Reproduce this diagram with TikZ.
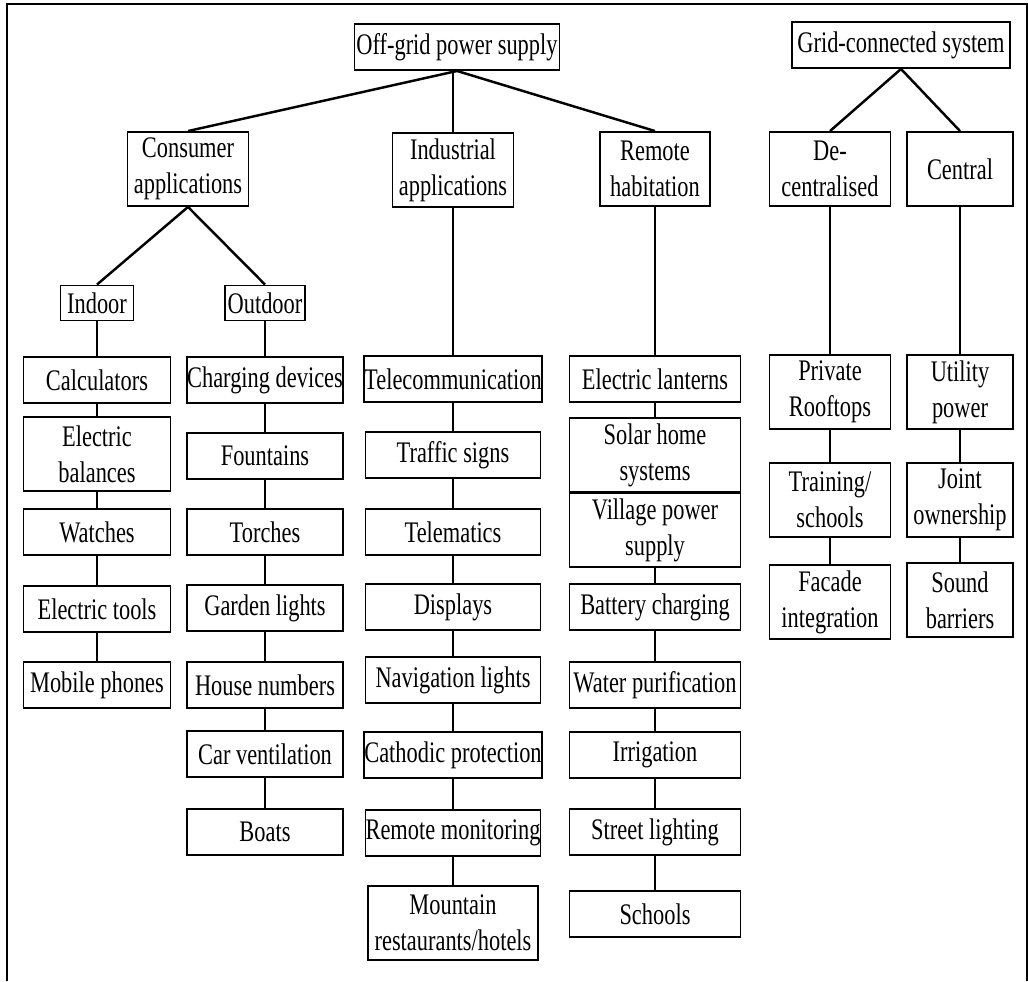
\documentclass[tikz,border=0pt]{standalone}
\usepackage{fontspec}
\setmainfont[FakeStretch=0.75]{Liberation Serif}
\usepackage{tikz}
\usetikzlibrary{positioning}

\tikzset{
    box/.style={draw, black, line width=1.1pt, fill=white, align=center, inner sep=0pt,
        font=\fontsize{17}{20.5}\selectfont},
    one/.style={box, minimum height=0.92cm},
    two/.style={box, minimum height=1.48cm},
    link/.style={black, line width=0.6pt},
    branch/.style={black, line width=1.4pt}
}

\begin{document}
\begin{tikzpicture}[x=0.02cm, y=-0.02cm]
    \useasboundingbox (0,0) rectangle (1028,981);
    \draw[black, line width=1.7pt] (7,981) -- (7,4) -- (1027,4) -- (1027,981);

    % top level
    \node[one, minimum width=4.1cm] (offgrid) at (457,47) {Off-grid power supply};
    \node[one, minimum width=4.36cm] (gridcon) at (901,45) {Grid-connected system};

    \node[two, minimum width=2.42cm] (consumer) at (188,169) {Consumer\\applications};
    \node[two, minimum width=2.42cm] (industrial) at (453,170) {Industrial\\applications};
    \node[two, minimum width=2.2cm] (remote) at (655,169) {Remote\\habitation};
    \node[two, minimum width=2.42cm] (decentral) at (830,169) {De-\\centralised};
    \node[two, minimum width=2.12cm] (central) at (960,169) {Central};

    \node[box, minimum width=1.46cm, minimum height=0.7cm] (indoor) at (97,303) {Indoor};
    \node[box, minimum width=1.6cm, minimum height=0.7cm] (outdoor) at (265,303) {Outdoor};

    % indoor
    \node[one, minimum width=2.94cm] (calc) at (97,380) {Calculators};
    \node[two, minimum width=2.94cm] (balances) at (97,454) {Electric\\balances};
    \node[one, minimum width=2.94cm] (watches) at (97,532) {Watches};
    \node[one, minimum width=2.94cm] (tools) at (97,609) {Electric tools};
    \node[one, minimum width=2.94cm] (phones) at (97,685) {Mobile phones};

    % outdoor
    \node[one, minimum width=3.12cm] (charging) at (265,380) {Charging devices};
    \node[one, minimum width=3.12cm] (fountains) at (265,456) {Fountains};
    \node[one, minimum width=3.12cm] (torches) at (265,532) {Torches};
    \node[one, minimum width=3.12cm] (garden) at (265,608) {Garden lights};
    \node[one, minimum width=3.12cm] (housenum) at (265,685) {House numbers};
    \node[one, minimum width=3.12cm] (carvent) at (265,754) {Car ventilation};
    \node[one, minimum width=3.12cm] (boats) at (265,832) {Boats};

    % industrial
    \node[one, minimum width=3.5cm] (telecom) at (453,379) {Telecommunication};
    \node[one, minimum width=3.5cm] (traffic) at (453,455) {Traffic signs};
    \node[one, minimum width=3.5cm] (telematics) at (453,532) {Telematics};
    \node[one, minimum width=3.5cm] (displays) at (453,607) {Displays};
    \node[one, minimum width=3.5cm] (navlights) at (453,680) {Navigation lights};
    \node[one, minimum width=3.5cm] (cathodic) at (453,755) {Cathodic protection};
    \node[one, minimum width=3.5cm] (monitoring) at (453,833) {Remote monitoring};
    \node[two, minimum width=3.4cm] (mountain) at (453,923) {Mountain\\restaurants/hotels};

    % remote habitation
    \node[one, minimum width=3.42cm] (lanterns) at (655,379) {Electric lanterns};
    \node[two, minimum width=3.42cm] (solarhome) at (655,455) {Solar home\\systems};
    \node[two, minimum width=3.42cm] (village) at (655,530) {Village power\\supply};
    \node[one, minimum width=3.42cm] (battery) at (655,607) {Battery charging};
    \node[one, minimum width=3.42cm] (water) at (655,685) {Water purification};
    \node[one, minimum width=3.42cm] (irrigation) at (655,755) {Irrigation};
    \node[one, minimum width=3.42cm] (streetlight) at (655,832) {Street lighting};
    \node[one, minimum width=3.42cm] (schools) at (655,914) {Schools};

    % grid-connected
    \node[two, minimum width=2.42cm] (rooftops) at (830,392) {Private\\Rooftops};
    \node[two, minimum width=2.42cm] (training) at (830,500) {Training/\\schools};
    \node[two, minimum width=2.42cm] (facade) at (830,602) {Facade\\integration};
    \node[two, minimum width=2.12cm] (utility) at (960,392) {Utility\\power};
    \node[two, minimum width=2.12cm] (joint) at (960,500) {Joint\\ownership};
    \node[two, minimum width=2.12cm] (sound) at (960,600) {Sound\\barriers};

    \draw[branch] (offgrid.south) -- (consumer.north);
    \draw[link] (industrial.north |- offgrid.south) -- (industrial.north);
    \draw[branch] (offgrid.south) -- (remote.north);
    \draw[branch] (gridcon.south) -- (decentral.north);
    \draw[branch] (gridcon.south) -- (central.north);
    \draw[branch] (consumer.south) -- (indoor.north);
    \draw[branch] (consumer.south) -- (outdoor.north);

    \foreach \a/\b in {indoor/calc, calc/balances, balances/watches, watches/tools, tools/phones,
        outdoor/charging, charging/fountains, fountains/torches, torches/garden, garden/housenum,
        housenum/carvent, carvent/boats,
        industrial/telecom, telecom/traffic, traffic/telematics, telematics/displays,
        displays/navlights, navlights/cathodic, cathodic/monitoring, monitoring/mountain,
        remote/lanterns, lanterns/solarhome, village/battery, battery/water,
        water/irrigation, irrigation/streetlight, streetlight/schools,
        decentral/rooftops, rooftops/training, training/facade,
        central/utility, utility/joint, joint/sound}
        \draw[link] (\a) -- (\b);
\end{tikzpicture}
\end{document}
